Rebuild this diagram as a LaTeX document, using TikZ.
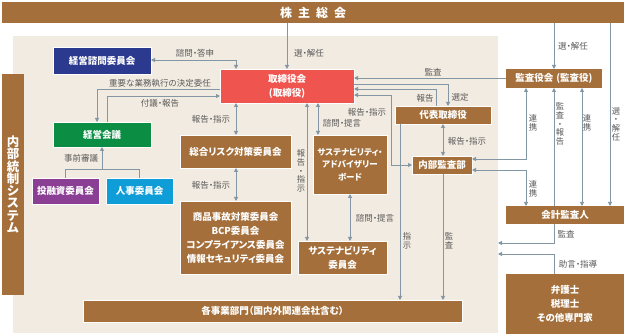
\documentclass[tikz,border=0pt]{standalone}
\usepackage{fontspec}
\setmainfont{Noto Sans CJK JP}[RawFeature=+palt]
\usetikzlibrary{arrows.meta}
\definecolor{bgc}{HTML}{F2EBE1}
\definecolor{brn}{HTML}{A46F3A}
\definecolor{redb}{HTML}{F0544F}
\definecolor{blueb}{HTML}{2B3A8E}
\definecolor{greenb}{HTML}{0B8E44}
\definecolor{purpleb}{HTML}{8A3F95}
\definecolor{cyanb}{HTML}{0F9DD7}
\definecolor{lnc}{HTML}{8296A3}
\definecolor{lbc}{HTML}{595959}
\begin{document}
\begin{tikzpicture}[x=1pt,y=-1pt,
  box/.style={draw=white, line width=0.4pt, inner sep=0pt, outer sep=0pt, anchor=north west,
    text=white, align=center, font=\fontsize{9.5}{14}\selectfont\bfseries},
  ln/.style={draw=lnc, line width=0.9pt},
  ar/.style={ln, -{Triangle[width=4pt,length=4pt]}},
  ar2/.style={ln, {Triangle[width=4pt,length=4pt]}-{Triangle[width=4pt,length=4pt]}},
  lb/.style={inner sep=0pt, text=lbc, font=\fontsize{8.5}{9}\selectfont},
  vlb/.style={inner sep=0pt, text=lbc, align=center, font=\fontsize{8.3}{8.7}\selectfont}]
\useasboundingbox (0,0) rectangle (627,336);
\fill[white] (0,0) rectangle (627,336);
% background
\node[fill=bgc, anchor=north west, inner sep=0pt, outer sep=0pt, minimum width=485pt, minimum height=297pt] (bg) at (13,36) {};
% boxes
\node[box, draw=none, fill=brn, minimum width=622pt, minimum height=21pt, font=\fontsize{12}{14}\selectfont\bfseries] (kabu) at (2,2) {株\hspace{6pt}主\hspace{6pt}総\hspace{6pt}会};
\node[box, draw=none, fill=brn, minimum width=22pt, minimum height=221pt, font=\fontsize{12.5}{12.3}\selectfont\bfseries] (naibu) at (2,74) {内\\部\\統\\制\\シ\\ス\\テ\\ム};
\node[box, fill=blueb, minimum width=98pt, minimum height=27pt] (shimon) at (53,47) {経営諮問委員会};
\node[box, fill=redb, minimum width=134pt, minimum height=34pt] (tori) at (220,69) {取締役会\\(取締役)};
\node[box, fill=greenb, minimum width=98pt, minimum height=25pt] (keieikaigi) at (53,122) {経営会議};
\node[box, fill=purpleb, minimum width=67pt, minimum height=26pt] (toyushi) at (32,178) {投融資委員会};
\node[box, fill=cyanb, minimum width=67pt, minimum height=26pt] (jinji) at (106,178) {人事委員会};
\node[box, fill=brn, minimum width=111pt, minimum height=33pt] (risk) at (180,135) {総合リスク対策委員会};
\node[box, fill=brn, minimum width=111pt, minimum height=73pt] (shohin) at (180,201) {商品事故対策委員会\\BCP委員会\\コンプライアンス委員会\\情報セキュリティ委員会};
\node[box, fill=brn, minimum width=74pt, minimum height=59pt, font=\fontsize{8.5}{12.5}\selectfont\bfseries] (sab) at (313,135) {サステナビリティ・\\アドバイザリー\\ボード};
\node[box, fill=brn, minimum width=89pt, minimum height=33pt] (sc) at (298,241) {サステナビリティ\\委員会};
\node[box, fill=brn, minimum width=96pt, minimum height=18pt] (daihyo) at (395,106) {代表取締役};
\node[box, fill=brn, minimum width=60pt, minimum height=18pt] (naikan) at (412,156) {内部監査部};
\node[box, draw=none, fill=brn, minimum width=96pt, minimum height=19pt] (kansayaku) at (506,69) {監査役会\hspace{3pt}(監査役)};
\node[box, draw=none, fill=brn, minimum width=118pt, minimum height=18pt] (kaikei) at (506,206) {会計監査人};
\node[box, draw=none, fill=brn, minimum width=118pt, minimum height=60pt] (bengo) at (506,274) {弁護士\\税理士\\その他専門家};
\node[box, fill=brn, minimum width=379pt, minimum height=22pt] (jigyo) at (83,300) {各事業部門（国内外関連会社含む）};
% helper coordinates
\foreach \c in {65,97,102,107,139,236,287,307,318,350,391,400,436,443,448,526,554,582,610}{\coordinate (X\c) at (\c,0);}
\foreach \r in {60,78,84,89,95,96,159,165,169,170,243,254}{\coordinate (Y\r) at (0,\r);}
% connectors
\draw[ar] (kabu.south -| X287) -- (tori.north -| X287);
\draw[ar] (kabu.south -| X554) -- (kansayaku.north -| X554);
\draw[ar] (kabu.south -| X610) -- (kaikei.north -| X610);
\draw[ar2] (shimon.east |- Y60) -| (tori.north -| X236);
\draw[ar] (tori.west |- Y89) -| (keieikaigi.north -| X97);
\draw[ar] (keieikaigi.north -| X107) |- (tori.west |- Y96);
\draw[ar2] (tori.south -| X236) -- (risk.north -| X236);
\draw[ar2] (risk.south -| X236) -- (shohin.north -| X236);
\draw[ar2] (tori.south -| X307) -- (sc.north -| X307);
\draw[ar2] (tori.south -| X318) -- (sab.north -| X318);
\draw[ar2] (sab.south -| X350) -- (sc.north -| X350);
\draw[ar] (kansayaku.west |- Y78) -- (tori.east |- Y78);
\draw[ar] (tori.east |- Y84) -| (daihyo.north -| X448);
\draw[ar] (daihyo.north -| X436) |- (tori.east |- Y89);
\draw[ar2] (tori.east |- Y95) -| (X391 |- Y165) -- (naikan.west |- Y165);
\draw[ar2] (daihyo.south -| X443) -- (naikan.north -| X443);
\draw[ar] (daihyo.south -| X400) -- (jigyo.north -| X400);
\draw[ar] (naikan.south -| X443) -- (jigyo.north -| X443);
\draw[ar2] (kansayaku.south -| X526) |- (naikan.east |- Y159);
\draw[ar2] (naikan.east |- Y170) -| (kaikei.north -| X526);
\draw[ar2] (kansayaku.south -| X582) -- (kaikei.north -| X582);
\draw[ar] (kaikei.north -| X554) -- (kansayaku.south -| X554);
\draw[ar] (kaikei.south -| X554) |- (bg.east |- Y243);
\draw[ar] (bengo.north -| X554) |- (bg.east |- Y254);
\draw[ar] (X65 |- toyushi.north) |- (X102 |- Y169) -- (keieikaigi.south -| X102);
\draw[ln] (X139 |- jinji.north) |- (X102 |- Y169);
% labels
\node[lb] (l1) at (309,53) {選・解任};
\node[lb] (l2) at (195,53) {諮問・答申};
\node[lb] (l3) at (160,83) {重要な業務執行の決定委任};
\node[lb] (l4) at (160,103) {付議・報告};
\node[lb] (l5) at (211,119) {報告・指示};
\node[lb] (l6) at (81,158) {事前審議};
\node[lb] (l7) at (211,185) {報告・指示};
\node[vlb] (l8) at (301,171) {報\\告\\・\\指\\示};
\node[lb] (l9) at (342,123) {諮問・提言};
\node[lb] (l10) at (367,112) {報告・指示};
\node[lb] (l11) at (375,218) {諮問・提言};
\node[lb] (l12) at (433,72) {監査};
\node[lb] (l13) at (425,98) {報告};
\node[lb] (l14) at (460,97) {選定};
\node[lb] (l15) at (467,141) {報告・指示};
\node[vlb] (l16) at (407,241) {指\\示};
\node[vlb] (l17) at (449,241) {監\\査};
\node[vlb] (l18) at (533,123) {連\\携};
\node[vlb] (l19) at (560,124) {監\\査\\・\\報\\告};
\node[vlb] (l20) at (587,123) {連\\携};
\node[vlb] (l21) at (616,124) {選\\・\\解\\任};
\node[lb] (l22) at (573,46) {選・解任};
\node[vlb] (l23) at (533,189) {連\\携};
\node[lb] (l24) at (566,234) {監査};
\node[lb] (l25) at (578,264) {助言・指導};
\end{tikzpicture}
\end{document}
